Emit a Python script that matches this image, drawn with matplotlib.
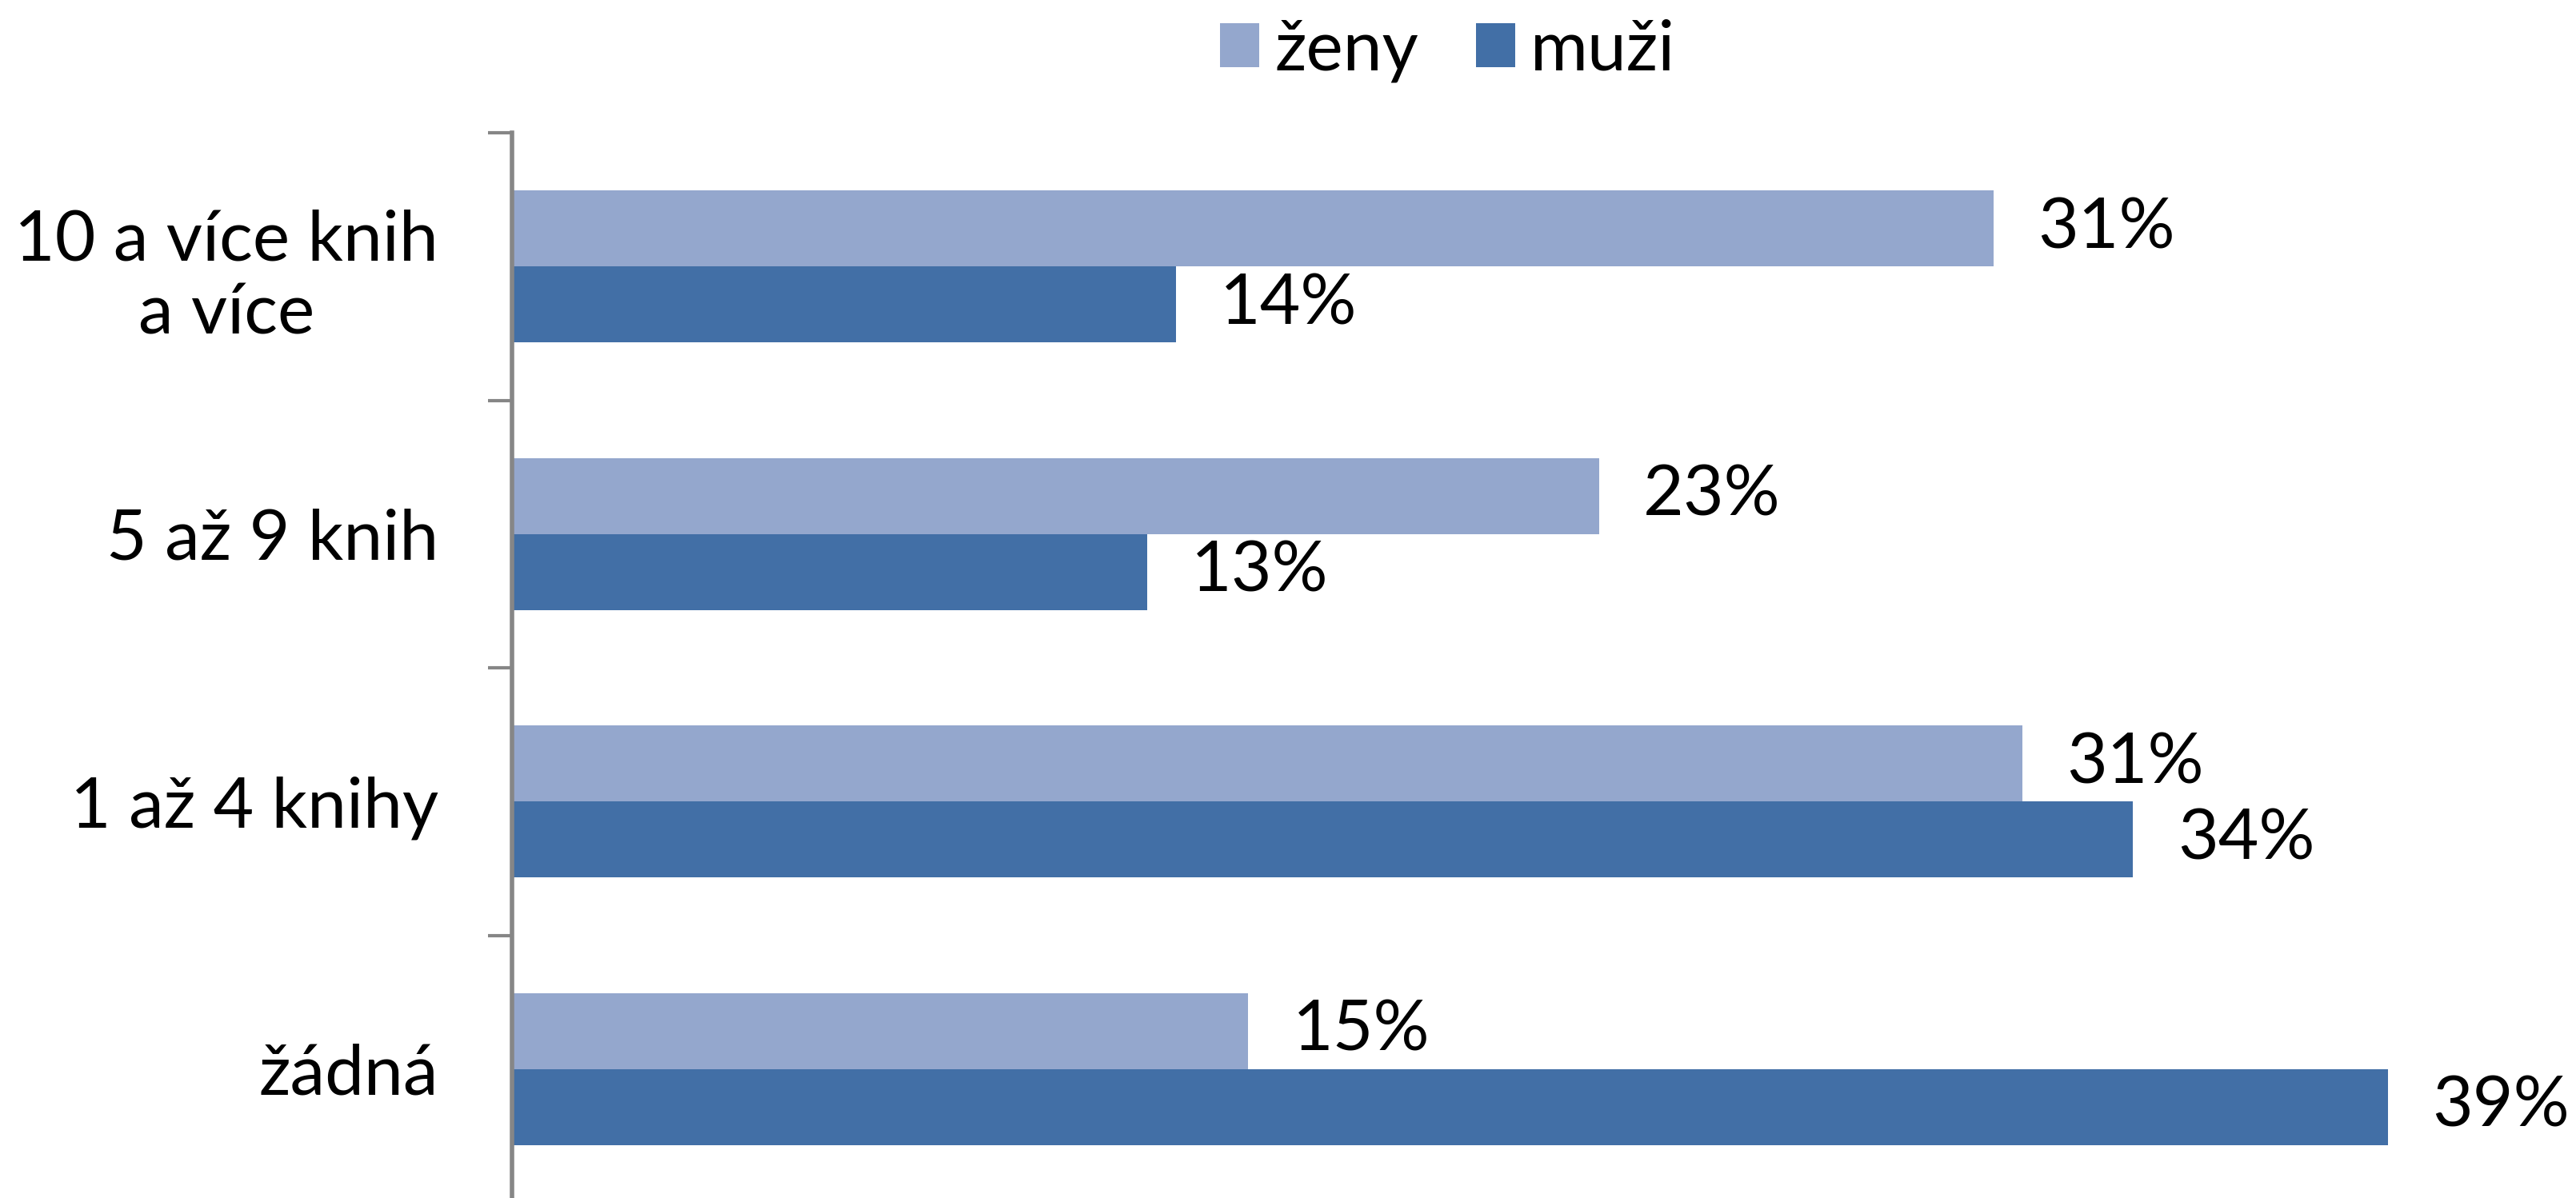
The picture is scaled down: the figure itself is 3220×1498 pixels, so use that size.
import matplotlib
matplotlib.use("Agg")
import matplotlib.pyplot as plt
import numpy as np

categories = ["10 a více knih\na více", "5 až 9 knih", "1 až 4 knihy", "žádná"]
zeny = [30.8, 22.6, 31.4, 15.3]
muzi = [13.8, 13.2, 33.7, 39.0]
series_names = ["ženy", "muži"]

plt.rcParams['font.family'] = ['Lato', 'DejaVu Sans']

W, H, DPI = 3220, 1498, 200
fig = plt.figure(figsize=(W / DPI, H / DPI), dpi=DPI)

ax_left = 640 / W
ax_top = 166 / H
ax_h = 1338 / H
ax = fig.add_axes([ax_left, 1 - ax_top - ax_h, 1 - ax_left, ax_h])

c_zeny = "#94A7CD"
c_muzi = "#426FA6"
bh = 0.284
y = np.arange(len(categories))

b1 = ax.barh(y - bh / 2, zeny, height=bh, color=c_zeny, label=series_names[0], zorder=2)
b2 = ax.barh(y + bh / 2, muzi, height=bh, color=c_muzi, label=series_names[1], zorder=2)

fs = 31.5
for bars, vals in ((b1, zeny), (b2, muzi)):
    for rect, v in zip(bars, vals):
        ax.annotate(f"{round(v):d}%", xy=(rect.get_width(), rect.get_y() + rect.get_height() / 2),
                    xytext=(20, 0), textcoords="offset points", ha="left", va="center",
                    fontsize=fs, color="black", annotation_clip=False)

ax.set_xlim(0, (W - 641) / 60.1)
ax.set_ylim(len(categories) - 0.5, -0.5)

ax.set_yticks(y)
ax.set_yticklabels(categories, fontsize=fs)
for t in ax.get_yticklabels():
    t.set_multialignment("center")
ax.set_yticks(np.arange(-0.5, len(categories)), minor=True)
ax.tick_params(axis="y", which="major", length=0, pad=33)
ax.tick_params(axis="y", which="minor", length=10.8, width=1.5, color="#868686")
ax.set_xticks([])

for s in ("top", "right", "bottom"):
    ax.spines[s].set_visible(False)
ax.spines["left"].set_color("#868686")
ax.spines["left"].set_linewidth(2.0)
ax.spines["left"].set_zorder(3)

fig.legend(handles=[b1, b2], labels=series_names, loc="center",
           bbox_to_anchor=(1810 / W, 1 - 63 / H), ncol=2, frameon=False,
           fontsize=fs, handlelength=0.56, handleheight=0.59, handletextpad=0.22,
           columnspacing=0.82, borderpad=0, borderaxespad=0)

fig.savefig("out.png", dpi=DPI)
